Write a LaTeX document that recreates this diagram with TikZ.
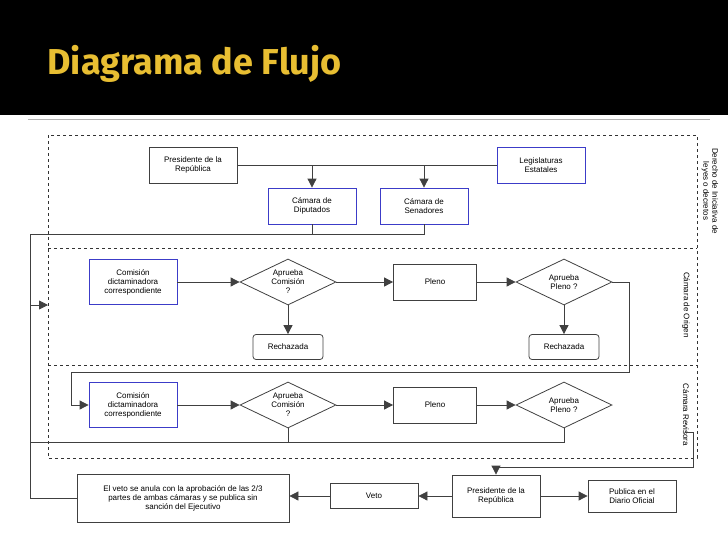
\documentclass[tikz,border=0pt]{standalone}
\usepackage{fontspec}
\setmainfont{Liberation Sans}
\newfontfamily\titlefont{Fira Sans}
\usetikzlibrary{arrows.meta,shapes.geometric}
\definecolor{gold}{RGB}{232,190,50}
\definecolor{boxblue}{RGB}{60,60,200}
\tikzset{
	caja/.style={draw=black!75, thick, minimum width=88pt, minimum height=36pt, align=center, font=\fontsize{8}{9}\selectfont},
	cajaazul/.style={caja, draw=boxblue},
	rombo/.style={diamond, draw=black!75, thick, aspect=2.1, minimum width=96pt, minimum height=46pt, inner sep=0pt, align=center, font=\fontsize{8}{9}\selectfont},
	rech/.style={caja, rounded corners=3pt, minimum width=70pt, minimum height=25pt},
	flecha/.style={-{Triangle[width=9pt,length=9pt]}, thick, black!75},
	linea/.style={thick, black!75},
	zona/.style={dashed, thin, black!80}
}
\begin{document}
\begin{tikzpicture}[x=1pt,y=-1pt]
			%%Fondo
			\useasboundingbox (0,0) rectangle (728,546);
			\fill[black] (0,0) rectangle (728,115);
			\draw[gray!60] (28,119) -- (710,119);
			\node[anchor=west, text=gold, font=\titlefont\bfseries\fontsize{36}{40}\selectfont] (titulo) at (44,64) {Diagrama de Flujo};
			%%Zonas
			\draw[zona] (48,135) rectangle (697,458);
			\draw[zona] (48,248) -- (697,248);
			\draw[zona] (48,365) -- (697,365);
			\node[rotate=-90, align=center, font=\fontsize{8}{9}\selectfont] (zinic) at (710,191) {Derecho de Iniciativa de\\leyes o decretos};
			\node[rotate=-90, font=\fontsize{8}{9}\selectfont] (zorig) at (686,305) {Cámara de Origen};
			\node[rotate=-90, font=\fontsize{8}{9}\selectfont, fill=white, inner sep=1pt] (zrev) at (686,415) {Cámara Revisora};
			%%Iniciativa
			\node[caja] (pres) at (193,165) {Presidente de la\\República};
			\node[cajaazul] (legis) at (541,165) {Legislaturas\\Estatales};
			\node[cajaazul] (dip) at (312,206) {Cámara de\\Diputados};
			\node[cajaazul] (sen) at (424,206) {Cámara de\\Senadores};
			\draw[linea] (pres) -- (legis);
			\draw[flecha] (dip.north |- pres) -- (dip);
			\draw[flecha] (sen.north |- pres) -- (sen);
			\coordinate (izq) at (30,234);
			\draw[linea] (dip) -- (dip.south |- izq);
			%%Origen
			\node[cajaazul, minimum height=45pt] (com1) at (133,282) {Comisión\\dictaminadora\\correspondiente};
			\node[rombo] (ac1) at (288,282) {Aprueba\\Comisión\\?};
			\node[caja, minimum width=83pt] (pleno1) at (435,282) {Pleno};
			\node[rombo] (ap1) at (564,282) {Aprueba\\Pleno ?};
			\node[rech] (rech1) at (288,347) {Rechazada};
			\node[rech] (rech2) at (564,347) {Rechazada};
			\draw[flecha] (com1) -- (ac1);
			\draw[flecha] (ac1) -- (pleno1);
			\draw[flecha] (pleno1) -- (ap1);
			\draw[flecha] (ac1) -- (rech1);
			\draw[flecha] (ap1) -- (rech2);
			%%Revisora
			\node[cajaazul, minimum height=45pt] (com2) at (133,405) {Comisión\\dictaminadora\\correspondiente};
			\node[rombo] (ac2) at (288,405) {Aprueba\\Comisión\\?};
			\node[caja, minimum width=83pt] (pleno2) at (435,405) {Pleno};
			\node[rombo] (ap2) at (564,405) {Aprueba\\Pleno ?};
			\draw[flecha] (ap1.east) -- (629,282) -- (629,372) -- (71,372) |- (com2.west);
			\draw[flecha] (com2) -- (ac2);
			\draw[flecha] (ac2) -- (pleno2);
			\draw[flecha] (pleno2) -- (ap2);
			\draw[linea] (ac2.south) -- (288,442);
			\draw[linea] (ap2.south) -- (564,442) -- (30,442);
			%%Promulgacion
			\node[caja, minimum height=42pt] (pres2) at (496,496) {Presidente de la\\República};
			\node[caja, minimum height=25pt] (veto) at (374,496) {Veto};
			\node[caja, minimum width=212pt, minimum height=48pt] (anula) at (183,498) {El veto se anula con la aprobación de las 2/3\\partes de ambas cámaras y se publica sin\\sanción del Ejecutivo};
			\node[caja, minimum height=32pt] (publica) at (632,496) {Publica en el\\Diario Oficial};
			\draw[flecha] (685,432) -- (693,432) -- (693,467) -- (pres2.north |- 0,467) -- (pres2.north);
			\draw[flecha] (pres2) -- (veto);
			\draw[flecha] (veto.west) -- (veto.west -| anula.east);
			\draw[flecha] (pres2) -- (publica);
			\draw[linea] (sen.south) |- (izq) -- (izq |- anula.west) -- (anula.west);
			\draw[flecha] (30,305) -- (48,305);
\end{tikzpicture}
\end{document}
